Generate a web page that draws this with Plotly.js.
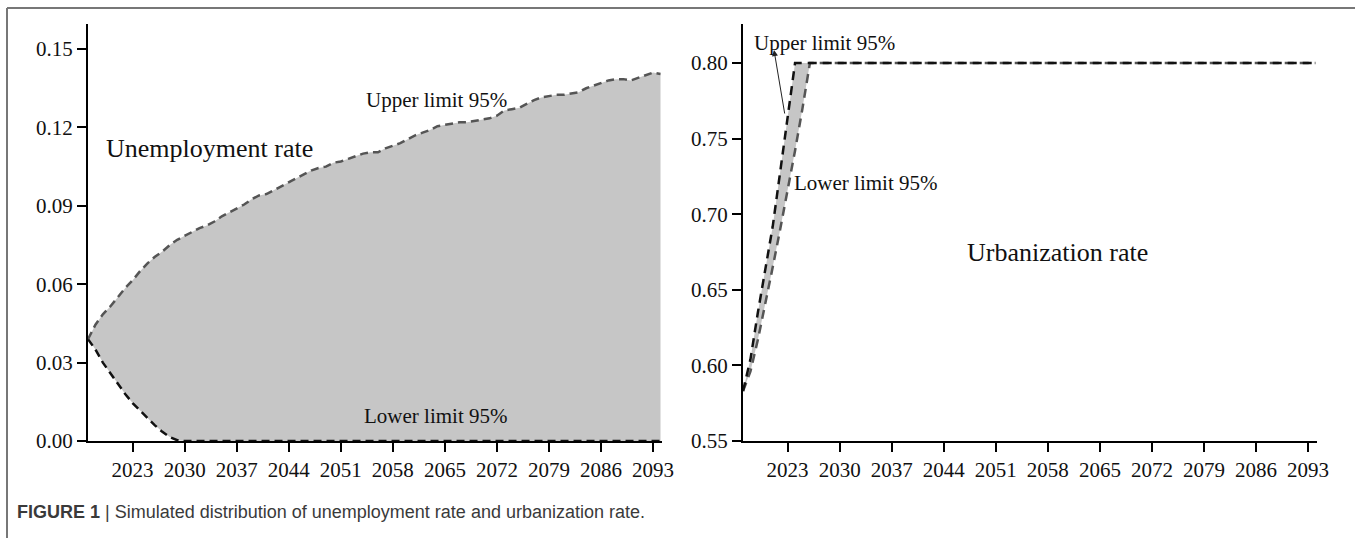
<!DOCTYPE html>
<html>
<head>
<meta charset="utf-8">
<script src="https://cdn.plot.ly/plotly-3.0.1.min.js"></script>
<style>
  html, body { margin: 0; padding: 0; background: #ffffff; }
  #chart { width: 1355px; height: 538px; }
</style>
</head>
<body>
<div id="chart"></div>
<script>
// Simulated unemployment rate: 95% band, yearly values
const unempYears = [
  2017, 2018, 2019, 2020, 2021, 2022, 2023, 2024, 2025, 2026,
  2027, 2028, 2029, 2030, 2031, 2032, 2033, 2034, 2035, 2036,
  2037, 2038, 2039, 2040, 2041, 2042, 2043, 2044, 2045, 2046,
  2047, 2048, 2049, 2050, 2051, 2052, 2053, 2054, 2055, 2056,
  2057, 2058, 2059, 2060, 2061, 2062, 2063, 2064, 2065, 2066,
  2067, 2068, 2069, 2070, 2071, 2072, 2073, 2074, 2075, 2076,
  2077, 2078, 2079, 2080, 2081, 2082, 2083, 2084, 2085, 2086,
  2087, 2088, 2089, 2090, 2091, 2092, 2093, 2094
];
const unempUpper = [
  0.039, 0.0445, 0.0485, 0.0515, 0.055, 0.0585, 0.0615, 0.065, 0.068, 0.0705,
  0.0725, 0.075, 0.077, 0.0785, 0.080, 0.0815, 0.0825, 0.084, 0.086, 0.0875,
  0.089, 0.0905, 0.0925, 0.094, 0.0945, 0.096, 0.0975, 0.099, 0.1005, 0.102,
  0.1035, 0.1045, 0.105, 0.1065, 0.107, 0.108, 0.109, 0.110, 0.1105, 0.1105,
  0.112, 0.113, 0.114, 0.1155, 0.117, 0.118, 0.119, 0.1205, 0.121, 0.1215,
  0.122, 0.122, 0.1225, 0.123, 0.1235, 0.1245, 0.1265, 0.127, 0.1275, 0.129,
  0.1305, 0.1315, 0.132, 0.1325, 0.1325, 0.133, 0.1335, 0.135, 0.136, 0.137,
  0.138, 0.1385, 0.1385, 0.138, 0.139, 0.140, 0.141, 0.1405
];
const unempLowerYears = [
  2017, 2018, 2019, 2020, 2021, 2022, 2023, 2024, 2025, 2026,
  2027, 2028, 2029, 2030, 2094
];
const unempLower = [
  0.039, 0.035, 0.030, 0.026, 0.022, 0.018, 0.0145, 0.0115, 0.0088, 0.006,
  0.0035, 0.0015, 0.0003, 0.0, 0.0
];

// Simulated urbanization rate: 95% band, capped at 0.80
const urbUpperYears = [2017, 2018, 2019, 2020, 2021, 2022, 2023, 2024, 2094];
const urbUpper      = [0.583, 0.604, 0.635, 0.663, 0.692, 0.728, 0.764, 0.80, 0.80];
const urbLowerYears = [2017, 2018, 2019, 2020, 2021, 2022, 2023, 2024, 2025, 2026, 2094];
const urbLower      = [0.583, 0.596, 0.617, 0.640, 0.665, 0.690, 0.715, 0.742, 0.770, 0.80, 0.80];

// Axis ticks
const yearTicks = [2023, 2030, 2037, 2044, 2051, 2058, 2065, 2072, 2079, 2086, 2093];
const unempTicks = [0, 0.03, 0.06, 0.09, 0.12, 0.15];
const unempTickText = ['0.00', '0.03', '0.06', '0.09', '0.12', '0.15'];
const urbTicks = [0.55, 0.60, 0.65, 0.70, 0.75, 0.80];
const urbTickText = ['0.55', '0.60', '0.65', '0.70', '0.75', '0.80'];

const SERIF = '"Liberation Serif", "Times New Roman", serif';
const BAND = '#c6c6c6';
const DARK = '#111111';
const GREY = '#555555';

const traces = [
  { x: unempLowerYears, y: unempLower, xaxis: 'x', yaxis: 'y', mode: 'lines',
    line: { color: DARK, width: 2.5, dash: '8px,5px' }, hoverinfo: 'skip' },
  { x: unempYears, y: unempUpper, xaxis: 'x', yaxis: 'y', mode: 'lines',
    fill: 'tonexty', fillcolor: BAND,
    line: { color: GREY, width: 2.5, dash: '8px,5px' }, hoverinfo: 'skip' },
  { x: urbLowerYears, y: urbLower, xaxis: 'x2', yaxis: 'y2', mode: 'lines',
    line: { color: GREY, width: 2.5, dash: '9px,6px' }, hoverinfo: 'skip' },
  { x: urbUpperYears, y: urbUpper, xaxis: 'x2', yaxis: 'y2', mode: 'lines',
    fill: 'tonexty', fillcolor: BAND,
    line: { color: DARK, width: 2.5, dash: '9px,6px' }, hoverinfo: 'skip' }
];

const W = 1355, H = 538;
const px = v => v / W;
const py = v => (H - v) / H;

function xAxis(domain, anchor) {
  return {
    domain: domain, anchor: anchor, range: [2017, 2094.2],
    tickvals: yearTicks, ticks: 'outside', ticklen: 9, tickwidth: 2, tickcolor: '#000',
    showline: true, linewidth: 2, linecolor: '#000',
    showgrid: false, zeroline: false, fixedrange: true,
    tickfont: { family: SERIF, size: 21, color: '#111' }
  };
}
function yAxis(range, vals, text, anchor) {
  return {
    domain: [py(441), py(24)], anchor: anchor, range: range,
    tickvals: vals, ticktext: text, ticks: 'outside', ticklen: 9, tickwidth: 2, tickcolor: '#000',
    showline: true, linewidth: 2, linecolor: '#000',
    showgrid: false, zeroline: false, fixedrange: true,
    tickfont: { family: SERIF, size: 21, color: '#111' }
  };
}

const layout = {
  width: W, height: H,
  margin: { l: 0, r: 0, t: 0, b: 0 },
  paper_bgcolor: '#ffffff', plot_bgcolor: 'rgba(0,0,0,0)',
  showlegend: false,
  xaxis: xAxis([px(88), px(662)], 'y'),
  yaxis: yAxis([0, 0.1596], unempTicks, unempTickText, 'x'),
  xaxis2: xAxis([px(743), px(1317)], 'y2'),
  yaxis2: yAxis([0.55, 0.8258], urbTicks, urbTickText, 'x2'),
  annotations: [
    { xref: 'x', yref: 'y', x: 2033.35, y: 0.1121, text: 'Unemployment rate', showarrow: false,
      font: { family: SERIF, size: 26, color: '#111' } },
    { xref: 'x', yref: 'y', x: 2063.9, y: 0.1305, text: 'Upper limit 95%', showarrow: false,
      font: { family: SERIF, size: 21, color: '#111' } },
    { xref: 'x', yref: 'y', x: 2063.8, y: 0.0096, text: 'Lower limit 95%', showarrow: false,
      font: { family: SERIF, size: 21, color: '#111' } },
    { xref: 'x2', yref: 'y2', x: 2027.9, y: 0.8132, text: 'Upper limit 95%', showarrow: false,
      font: { family: SERIF, size: 21, color: '#111' } },
    { xref: 'x2', yref: 'y2', x: 2033.5, y: 0.7206, text: 'Lower limit 95%', showarrow: false,
      font: { family: SERIF, size: 21, color: '#111' } },
    { xref: 'x2', yref: 'y2', x: 2059.3, y: 0.675, text: 'Urbanization rate', showarrow: false,
      font: { family: SERIF, size: 26, color: '#111' } },
    // pointer from the upper limit line to its label
    { xref: 'x2', yref: 'y2', axref: 'x2', ayref: 'y2',
      x: 2021.17, y: 0.8086, ax: 2022.64, ay: 0.7656, text: '',
      showarrow: true, arrowhead: 2, arrowsize: 1.2, arrowwidth: 1, arrowcolor: '#222', standoff: 0 },
    // figure caption
    { xref: 'paper', yref: 'paper', x: px(15), y: py(512), xanchor: 'left', yanchor: 'middle',
      showarrow: false, align: 'left',
      text: '<b>FIGURE 1</b> | Simulated distribution of unemployment rate and urbanization rate.',
      font: { family: '"Liberation Sans", Arial, sans-serif', size: 18, color: '#3a3a3a' } }
  ],
  shapes: [
    // frame around the figure
    { type: 'line', xref: 'paper', yref: 'paper', x0: px(7), x1: 1, y0: py(8), y1: py(8),
      line: { color: '#777', width: 2 } },
    { type: 'line', xref: 'paper', yref: 'paper', x0: px(7), x1: px(7), y0: 0, y1: py(8),
      line: { color: '#777', width: 2 } }
  ]
};

Plotly.newPlot('chart', traces, layout, { displayModeBar: false, staticPlot: true });
</script>
</body>
</html>
